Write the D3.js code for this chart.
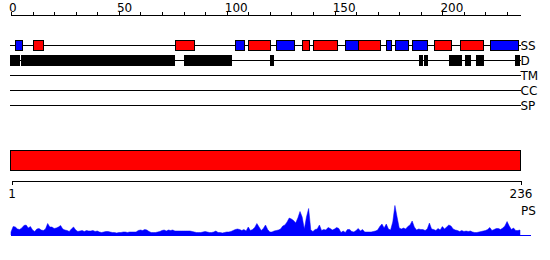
<!DOCTYPE html>
<html>
<head>
<meta charset="utf-8">
<script src="https://cdn.jsdelivr.net/npm/d3@7"></script>
<style>
  html, body { margin: 0; padding: 0; background: #fff; }
  svg { display: block; font-family: "DejaVu Sans", sans-serif; }
</style>
</head>
<body>
<svg id="chart" width="550" height="260"></svg>
<script>
// ---------- data ----------
const seqLength = 236;
const topTicks = d3.range(0, 231, 10);
const topTickLabels = [0, 50, 100, 150, 200];
const bottomTickLabels = [1, 236];
const trackNames = ["SS", "D", "TM", "CC", "SP"];

// secondary structure segments (residue start, end, type)
const ssStart = [2, 10, 76, 104, 110, 123, 135, 140, 155, 161, 174, 178, 186, 196, 208, 222];
const ssEnd   = [5, 15, 85, 108, 120, 131, 138, 151, 161, 171, 176, 184, 193, 204, 219, 235];
const ssType  = ["E", "H", "H", "E", "H", "E", "H", "H", "E", "H", "E", "E", "E", "H", "H", "E"];

// disorder segments
const dStart = [0, 5, 80.5, 120.5, 189.5, 192, 203.5, 211, 216, 234];
const dEnd   = [4, 76, 102.5, 122, 191, 193.5, 209, 213.5, 219.5, 236];

// domain bar
const domainStart = [0];
const domainEnd = [236];

// PS profile, residues 0..236
const psValues = [
  3, 8.5, 8, 6, 5.5, 7, 9.5, 10, 7, 8.5,
  5, 3.5, 6, 6.5, 5, 4.5, 6, 11.5, 8, 8,
  6.5, 7, 8, 9.5, 6, 5, 4.5, 3.5, 6, 8,
  5, 3.5, 4, 4.5, 3.5, 4.5, 4, 4, 4.5, 3.5,
  4, 3, 2.5, 3, 3.5, 3.5, 3, 2.5, 2.5, 2,
  2.5, 2.5, 3, 3, 2.5, 3, 3, 3, 3, 4.5,
  5, 4.5, 5.5, 5, 3.5, 2.5, 2.5, 2.5, 3, 3.5,
  4.5, 5, 4, 5, 4.5, 5, 4, 4, 4, 4,
  4, 4, 4, 4, 3.5, 3, 2.5, 2.5, 2.5, 3,
  3.5, 3, 2.5, 2.5, 3, 4, 2.5, 2.5, 2, 2.5,
  3, 3, 3.5, 4.5, 5.5, 6, 5.5, 4.5, 5.5, 4,
  8, 4.5, 5.5, 7.5, 11.5, 8, 4.5, 6.5, 10, 5.5,
  3, 3, 4, 4.5, 5, 6, 9, 10, 13, 17,
  16, 14.5, 12, 17, 23.5, 18, 6, 18, 26.5, 5,
  3.5, 5.5, 6, 10, 4.5, 5.5, 5, 7.5, 6.5, 5,
  6, 7.5, 6.5, 2.5, 4, 2.5, 5.5, 5.5, 3.5, 3,
  4.5, 6.5, 4, 5.5, 3, 3, 3, 3, 3.5, 4,
  5, 8.5, 11, 7, 11, 6, 5, 13, 29.5, 18,
  7, 6, 7, 6, 8.5, 10, 14, 8, 5, 6,
  5.5, 5.5, 4.5, 6, 12, 6, 5.5, 4.5, 6.5, 5,
  8.5, 6, 8, 10, 9, 6, 5, 4.5, 3.5, 4.5,
  3.5, 4, 3.5, 4, 3, 2.5, 2.5, 3, 3.5, 4,
  4.5, 5.5, 7.5, 4.5, 5.5, 6.5, 6.5, 5.5, 7, 9,
  13.5, 9, 5.5, 7, 4.5, 4.5, 5
];

// ---------- layout ----------
const svg = d3.select("#chart");
const x = d3.scaleLinear().domain([0, seqLength]).range([11, 520]);
const trackY = d3.scalePoint().domain(trackNames).range([45, 105]);
const psY = d3.scaleLinear().domain([0, 30]).range([235, 205]);
const colorSS = d3.scaleOrdinal().domain(["H", "E"]).range(["#ff0000", "#0000ff"]);

// top axis
const topAxis = d3.axisTop(x)
  .tickValues(topTicks)
  .tickSize(4)
  .tickSizeOuter(0)
  .tickFormat(d => topTickLabels.includes(d) ? d : "");
const gTop = svg.append("g").attr("transform", "translate(0,15.5)").call(topAxis);
gTop.select(".domain").attr("d", `M${x(0)},0H${x(seqLength) + 1}`);
gTop.selectAll("text")
  .attr("text-anchor", "start")
  .attr("dx", "-0.2em")
  .attr("y", -4)
  .attr("font-size", 12)
  .attr("font-family", "DejaVu Sans");
gTop.selectAll("line, path").attr("stroke", "#000").attr("shape-rendering", "crispEdges");

// track lines and labels
trackNames.forEach(t => {
  svg.append("line")
    .attr("x1", x(0) - 1).attr("x2", x(seqLength) + 0.5)
    .attr("y1", trackY(t) + 0.5).attr("y2", trackY(t) + 0.5)
    .attr("stroke", "#000").attr("shape-rendering", "crispEdges");
  svg.append("text")
    .attr("x", x(seqLength) + 0.5)
    .attr("y", trackY(t) + 4.5)
    .attr("font-size", 12)
    .attr("fill", "#000")
    .text(t);
});

// SS boxes
const ssData = ssStart.map((s, i) => ({ s, e: ssEnd[i], t: ssType[i] }));
svg.append("g").selectAll("rect").data(ssData).join("rect")
  .attr("x", d => x(d.s) + 0.5)
  .attr("width", d => x(d.e) - x(d.s))
  .attr("y", trackY("SS") - 4.5)
  .attr("height", 10)
  .attr("fill", d => colorSS(d.t))
  .attr("stroke", "#000")
  .attr("shape-rendering", "crispEdges");

// Disorder boxes
const dData = dStart.map((s, i) => ({ s, e: dEnd[i] }));
svg.append("g").selectAll("rect").data(dData).join("rect")
  .attr("x", d => x(d.s) - 0.5)
  .attr("width", d => Math.max(1, x(d.e) - x(d.s)))
  .attr("y", trackY("D") - 4.5)
  .attr("height", 10)
  .attr("fill", "#000")
  .attr("stroke", "#000")
  .attr("shape-rendering", "crispEdges");

// domain bar
const domData = domainStart.map((s, i) => ({ s, e: domainEnd[i] }));
svg.append("g").selectAll("rect").data(domData).join("rect")
  .attr("x", d => x(d.s) - 0.5)
  .attr("width", d => x(d.e) - x(d.s) + 1)
  .attr("y", 150.5)
  .attr("height", 20)
  .attr("fill", "#ff0000")
  .attr("stroke", "#000")
  .attr("shape-rendering", "crispEdges");

// bottom axis
const bx = d3.scaleLinear().domain([1, seqLength]).range([x(0), x(seqLength)]);
const botAxis = d3.axisBottom(bx).tickValues(bottomTickLabels).tickSize(4).tickSizeOuter(0);
const gBot = svg.append("g").attr("transform", "translate(0.5,180.5)").call(botAxis);
gBot.selectAll("line, path").attr("stroke", "#000").attr("shape-rendering", "crispEdges");
gBot.selectAll("text").attr("font-size", 12).attr("font-family", "DejaVu Sans").attr("y", 9);

// PS area
const area = d3.area()
  .x((d, i) => x(i))
  .y0(psY(0))
  .y1(d => psY(d))
  .curve(d3.curveLinear);
svg.append("path")
  .datum(psValues)
  .attr("d", area)
  .attr("fill", "#0000ff")
  .attr("stroke", "#0000ff")
  .attr("stroke-width", 0.5);
svg.append("line")
  .attr("x1", x(0)).attr("x2", 531)
  .attr("y1", psY(0) + 0.5).attr("y2", psY(0) + 0.5)
  .attr("stroke", "#0000ff")
  .attr("shape-rendering", "crispEdges");
svg.append("text")
  .attr("x", 521).attr("y", 215)
  .attr("font-size", 12)
  .text("PS");
</script>
</body>
</html>
